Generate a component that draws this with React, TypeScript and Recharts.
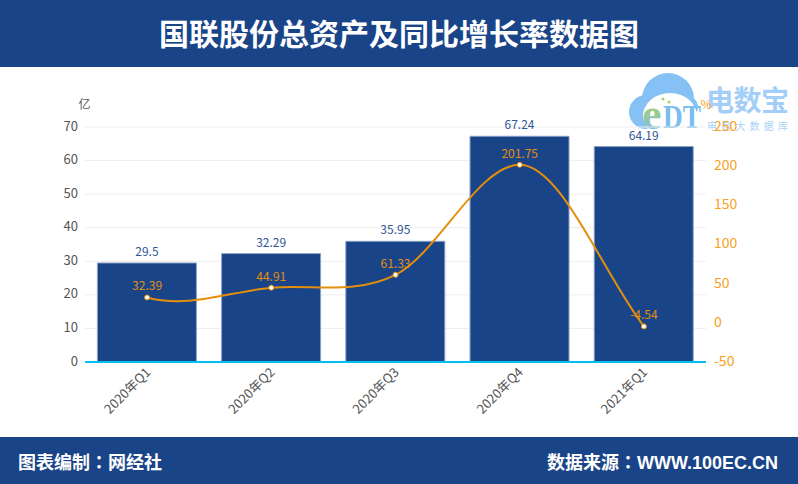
import { ComposedChart, Bar, Line, XAxis, YAxis, CartesianGrid, LabelList } from "recharts";

const quarters = ["2020年Q1", "2020年Q2", "2020年Q3", "2020年Q4", "2021年Q1"];
const totalAssets = [29.5, 32.29, 35.95, 67.24, 64.19];
const growthRate = [32.39, 44.91, 61.33, 201.75, -4.54];
const leftTicks = [0, 10, 20, 30, 40, 50, 60, 70];
const rightTicks = [-50, 0, 50, 100, 150, 200, 250];

const data = quarters.map((q, i) => ({ q, assets: totalAssets[i], growth: growthRate[i] }));

const FONT = '"Noto Sans CJK SC", "Noto Sans", sans-serif';
const BANNER_FONT = '"Liberation Sans", "Noto Sans CJK TC", sans-serif';
const NAVY = "#1a4488";
const ORANGE = "#e58e0c";

// smooth curve: flat at peaks, catmull-rom tangents elsewhere, small dip at the start
function smoothCurve(context: any) {
  let pts: [number, number][] = [];
  return {
    areaStart() {},
    areaEnd() {},
    lineStart() {
      pts = [];
    },
    point(x: number, y: number) {
      pts.push([+x, +y]);
    },
    lineEnd() {
      const n = pts.length;
      if (!n) return;
      const m = pts.map((p, i) => {
        if (i === 0 || i === n - 1) return 0;
        const a = pts[i - 1];
        const b = pts[i + 1];
        if ((p[1] - a[1]) * (b[1] - p[1]) < 0) return 0;
        return (b[1] - a[1]) / (b[0] - a[0]);
      });
      m[0] = -3 * m[1];
      m[n - 1] = (pts[n - 1][1] - pts[n - 2][1]) / (pts[n - 1][0] - pts[n - 2][0]);
      context.moveTo(pts[0][0], pts[0][1]);
      for (let i = 1; i < n; i++) {
        const h = (pts[i][0] - pts[i - 1][0]) / 3;
        context.bezierCurveTo(
          pts[i - 1][0] + h,
          pts[i - 1][1] + m[i - 1] * h,
          pts[i][0] - h,
          pts[i][1] - m[i] * h,
          pts[i][0],
          pts[i][1]
        );
      }
    },
  };
}

function QuarterTick({ x, y, payload }: any) {
  return (
    <text
      x={x}
      y={y}
      dy={7}
      dx={5}
      textAnchor="end"
      fontSize={13}
      fill="#555"
      transform={`rotate(-45 ${x} ${y + 6})`}
    >
      {payload.value}
    </text>
  );
}

function Logo() {
  return (
    <svg width={798} height={484} style={{ position: "absolute", left: 0, top: 0 }}>
      <defs>
        <linearGradient id="edtGradient" x1="0" y1="0" x2="0" y2="1">
          <stop offset="25%" stopColor="#a9d05a" />
          <stop offset="85%" stopColor="#7fc0ee" />
        </linearGradient>
      </defs>
      <g fill="#85c1f5">
        <circle cx={668} cy={99} r={26} />
        <circle cx={646} cy={112} r={17} />
        <circle cx={687} cy={107} r={11} />
      </g>
      <ellipse cx={670} cy={116} rx={27} ry={23} fill="#fff" />
      <rect x={652} y={121} width={52} height={14} fill="#fff" />
      <circle cx={663} cy={99} r={1.5} fill="#a9d05a" />
      <circle cx={669} cy={102} r={1.5} fill="#a9d05a" />
      <text x={642} y={129} fontSize={44} fontFamily="Liberation Serif" fontWeight={700} fill="url(#edtGradient)">e</text>
      <text x={663} y={128} fontSize={33} fontFamily="Liberation Serif" fontWeight={700} fill="#7cbdf0" textLength={38} lengthAdjust="spacingAndGlyphs">DT</text>
      <text x={706} y={111} fontSize={28} fontWeight={700} fontFamily={FONT} fill="#a3cef7" textLength={83}>电数宝</text>
      <text x={707} y={130} fontSize={10} fontFamily={FONT} fill="#a8d2f8" textLength={81}>电商大数据库</text>
    </svg>
  );
}

export default function App() {
  return (
    <div style={{ position: "fixed", left: 0, top: 0, width: 798, height: 484, background: "#fff", fontFamily: FONT, overflow: "hidden" }}>
      <Logo />
      <div style={{ position: "absolute", left: 0, top: 0, width: 798, height: 67, background: NAVY, color: "#fff", fontSize: 30, fontWeight: 700, lineHeight: "64px", textAlign: "center" }}>
        国联股份总资产及同比增长率数据图
      </div>
      <div style={{ position: "absolute", left: 0, top: 67 }}>
        <ComposedChart width={798} height={370} data={data} margin={{ top: 60, right: 0, bottom: 0, left: 0 }} barCategoryGap="10%">
          <CartesianGrid vertical={false} stroke="#eee" yAxisId="left" />
          <XAxis
            dataKey="q"
            interval={0}
            tick={<QuarterTick />}
            tickLine={false}
            axisLine={{ stroke: "#00bff3", strokeWidth: 2 }}
            height={75}
          />
          <YAxis
            yAxisId="left"
            width={85}
            domain={[0, 70]}
            ticks={leftTicks}
            tick={{ fontSize: 13, fill: "#555", dy: -1 }}
            tickLine={false}
            axisLine={false}
            tickMargin={1}
            label={{ value: "亿", position: "top", dx: 42, dy: -13, fontSize: 12, fill: "#555" }}
          />
          <YAxis
            yAxisId="right"
            orientation="right"
            width={92}
            domain={[-50, 250]}
            ticks={rightTicks}
            tick={{ fontSize: 14, fill: "#f7a11d", dy: -1 }}
            tickLine={false}
            axisLine={false}
            tickMargin={2}
            label={{ value: "%", position: "top", dx: -46, dy: -13, fontSize: 12, fill: "#f7a11d" }}
          />
          <Bar yAxisId="left" dataKey="assets" fill={NAVY} stroke="#8aa2c8" strokeWidth={1} isAnimationActive={false}>
            <LabelList dataKey="assets" position="top" offset={7} fontSize={12} fill="#2f5597" />
          </Bar>
          <Line
            yAxisId="right"
            dataKey="growth"
            type={smoothCurve as any}
            stroke={ORANGE}
            strokeWidth={2}
            dot={{ r: 2.5, fill: "#fff", stroke: ORANGE, strokeWidth: 1, fillOpacity: 1 }}
            isAnimationActive={false}
          >
            <LabelList dataKey="growth" position="top" offset={7} fontSize={12} fill={ORANGE} />
          </Line>
        </ComposedChart>
      </div>
      <div style={{ position: "absolute", left: 0, top: 437, width: 798, height: 47, background: NAVY, color: "#fff", fontFamily: BANNER_FONT, fontSize: 18, fontWeight: 700, lineHeight: "53px" }}>
        <span style={{ position: "absolute", left: 18 }}>图表编制：网经社</span>
        <span style={{ position: "absolute", right: 20 }}>数据来源：WWW.100EC.CN</span>
      </div>
    </div>
  );
}
